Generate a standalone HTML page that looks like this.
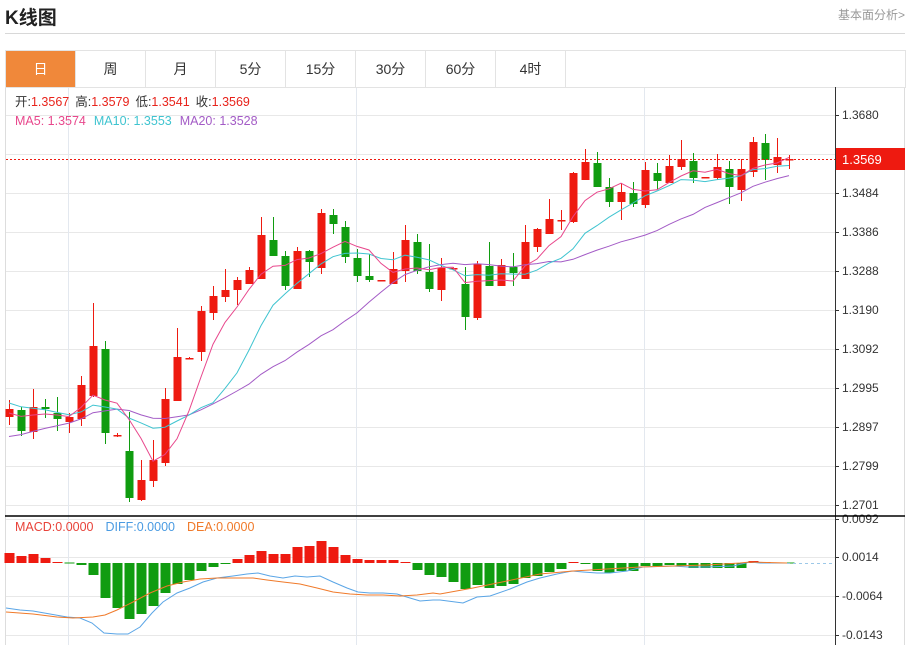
<!DOCTYPE html>
<html><head><meta charset="utf-8">
<style>
html,body{margin:0;padding:0;background:#fff;}
body{width:909px;height:645px;overflow:hidden;position:relative;font-family:"Liberation Sans","Noto Sans CJK SC",sans-serif;}
#hd{position:absolute;left:5px;top:3px;font-size:19px;font-weight:bold;color:#222;}
#rt{position:absolute;right:4px;top:6px;font-size:12px;color:#999;}
#ln{position:absolute;left:5px;top:33px;width:900px;height:1px;background:#d8d8d8;}
#tabs{position:absolute;left:5px;top:50px;width:899px;height:36px;border:1px solid #e3e3e3;}
.t{position:absolute;top:0;width:70px;height:36px;line-height:36px;text-align:center;font-size:14px;color:#333;border-right:1px solid #e3e3e3;box-sizing:border-box;}
svg{position:absolute;left:0;top:0;}
</style></head><body>
<div id="hd">K线图</div><div id="rt">基本面分析&gt;</div><div id="ln"></div>
<div id="tabs">
<div class="t" style="left:0;background:#f0883a;color:#fff;">日</div>
<div class="t" style="left:70px">周</div><div class="t" style="left:140px">月</div>
<div class="t" style="left:210px">5分</div><div class="t" style="left:280px">15分</div>
<div class="t" style="left:350px">30分</div><div class="t" style="left:420px">60分</div>
<div class="t" style="left:490px">4时</div>
</div>
<svg id="s" width="909" height="645" xmlns="http://www.w3.org/2000/svg" font-family="Liberation Sans, Noto Sans CJK SC, sans-serif"></svg>
<script>
var S=document.getElementById('s'),h='';
function L(x1,y1,x2,y2,c,w,d){h+='<line x1="'+x1+'" y1="'+y1+'" x2="'+x2+'" y2="'+y2+'" stroke="'+c+'" stroke-width="'+(w||1)+'"'+(d?' stroke-dasharray="'+d+'"':'')+'/>';}
function R(x,y,w,hh,c){h+='<rect x="'+x+'" y="'+y+'" width="'+w+'" height="'+hh+'" fill="'+c+'"/>';}
function T(x,y,s,c,sz,a){h+='<text x="'+x+'" y="'+y+'" fill="'+c+'" font-size="'+(sz||12)+'"'+(a?' text-anchor="'+a+'"':'')+'>'+s+'</text>';}
function P(pts,c){h+='<polyline fill="none" stroke="'+c+'" stroke-width="1" points="'+pts.map(function(p){return p.join(',')}).join(' ')+'"/>';}
// frame
L(5.5,87,5.5,645,'#ddd');L(904.5,87,904.5,645,'#ddd');L(5,87.5,905,87.5,'#e3e3e3');
// grids
var py=[115,154,193,232,271,310,349,388,427,466,505],pl=['1.3680','','1.3484','1.3386','1.3288','1.3190','1.3092','1.2995','1.2897','1.2799','1.2701'];
py.forEach(function(y,i){L(6,y+.5,835,y+.5,'#e8e8e8');L(835,y+.5,839,y+.5,'#333');if(pl[i])T(842,y+4,pl[i],'#333',12);});
var my=[519,557,596,635],ml=['0.0092','0.0014','-0.0064','-0.0143'];
my.forEach(function(y,i){L(6,y+.5,835,y+.5,'#e8e8e8');L(835,y+.5,839,y+.5,'#333');T(842,y+4,ml[i],'#333',12);});
[68,356,644].forEach(function(x){L(x+.5,88,x+.5,645,'#e3e8ef');});
// candles [o,c,h,l]
var C=[[417,409,400,425],[410,431,407,436],[432,407,389,439],[407,409,399,418],[413,419,397,431],[422,417,413,433],[419,385,376,426],[396,346,303,397],[349,433,341,444],[435,435,433,437],[451,498,412,502],[500,480,460,501],[481,460,440,487],[463,399,388,466],[401,357,328,401],[358,358,357,359],[352,311,306,361],[313,296,286,320],[297,290,269,302],[290,280,277,305],[284,270,267,284],[279,235,217,279],[240,256,217,256],[256,286,251,290],[289,251,247,289],[251,262,250,277],[268,213,209,274],[215,224,209,234],[227,257,221,263],[258,276,249,282],[276,280,254,282],[280,280,280,280],[284,269,252,284],[271,240,225,282],[242,271,234,274],[272,289,244,292],[290,268,258,301],[268,268,267,269],[284,317,267,330],[318,264,261,320],[266,286,242,286],[286,265,259,286],[267,273,253,286],[279,242,225,279],[247,229,228,252],[234,219,199,234],[220,220,210,230],[222,173,172,223],[180,162,149,180],[163,187,152,187],[187,202,178,207],[202,192,183,220],[193,204,182,207],[205,170,162,208],[173,181,163,189],[183,166,155,183],[167,159,140,170],[161,178,153,183],[177,177,177,177],[178,167,154,180],[169,187,161,204],[190,169,159,201],[172,142,137,177],[143,160,134,180],[165,157,138,173],[159,159,155,169]];
var RED='#ee1a10',GRN='#109c10';
C.forEach(function(d,i){var x=9+12*i,o=d[0],c=d[1],up=c<o||(c==o&&true),col=(c>o)?GRN:RED;
 L(x+.5,d[2],x+.5,d[3],col,1);
 var t=Math.min(o,c),b=Math.max(o,c);R(x-3.5,t,8,Math.max(1.5,b-t),col);});
// MAs
var pre=[];for(var k=0;k<10;k++)pre.push(470);for(k=0;k<5;k++)pre.push(393);for(k=0;k<4;k++)pre.push(414);
var cl=pre.concat(C.map(function(d){return d[1]}));
function MA(n,col){var pts=[];for(var i=0;i<C.length;i++){var j=i+19,s=0;for(var m=0;m<n;m++)s+=cl[j-m];pts.push([9+12*i,(s/n).toFixed(1)]);}P(pts,col);}
MA(20,'#a35bc6');MA(10,'#3fc4d0');MA(5,'#e8478c');
// price line
L(6,159.5,835,159.5,'#ee1a10',1,'2,2');
R(836,148,69,22,'#ee1a10');T(842,164,'1.3569','#fff',13);
// axis
L(835.5,87,835.5,645,'#333');
L(5,516,905,516,'#000',1.5);
// labels
h+='<text x="15" y="106" font-size="12.5"><tspan fill="#333">开:</tspan><tspan fill="#e8231b">1.3567</tspan><tspan fill="#333" dx="6">高:</tspan><tspan fill="#e8231b">1.3579</tspan><tspan fill="#333" dx="6">低:</tspan><tspan fill="#e8231b">1.3541</tspan><tspan fill="#333" dx="6">收:</tspan><tspan fill="#e8231b">1.3569</tspan></text>';
h+='<text x="15" y="125" font-size="12.5"><tspan fill="#e8478c">MA5: 1.3574</tspan><tspan fill="#3fc4d0" dx="8">MA10: 1.3553</tspan><tspan fill="#a35bc6" dx="8">MA20: 1.3528</tspan></text>';
h+='<text x="15" y="531" font-size="12.5"><tspan fill="#e8433a">MACD:0.0000</tspan><tspan fill="#4a9be2" dx="12">DIFF:0.0000</tspan><tspan fill="#f07a2a" dx="12">DEA:0.0000</tspan></text>';
// MACD bars
var Z=563,B=[553,556,554,558,562,563,565,575,598,608,619,614,606,593,584,580,571,567,564,559,555,551,554,554,547,546,541,547,555,559,560,560,560,562,570,575,577,582,589,585,588,586,584,578,576,572,569,562,564,571,573,571,571,566,566,565,566,568,568,568,568,568,561,562,563,563];
B.forEach(function(y,i){var x=9+12*i;var col=y<Z?RED:GRN;var t=Math.min(y,Z),hh=Math.abs(y-Z);if(hh<1){R(x-4.5,Z-0.5,10,1,col);}else R(x-4.5,t,10,hh,col);});
P([[6,608],[20,610],[33,611],[50,614],[67,617],[80,618],[92,623],[104,633],[117,634],[128,634],[140,627],[152,613],[163,602],[177,593],[190,588],[203,582],[217,578],[233,576],[247,574],[258,573],[270,576],[283,578],[295,576],[307,577],[320,576],[333,582],[347,588],[358,592],[370,593],[383,593],[397,594],[410,598],[420,601],[433,600],[440,600],[463,603],[477,597],[490,596],[510,589],[527,582],[540,578],[557,574],[572,571],[583,572],[597,573],[610,573],[627,571],[643,567],[673,566],[688,567],[707,567],[733,566],[750,562],[760,563],[787,563]],'#5aa5e6');
P([[6,612],[33,614],[57,617],[73,618],[93,617],[105,615],[117,610],[133,602],[150,593],[167,586],[183,582],[200,579],[217,578],[233,578],[253,578],[267,580],[283,582],[300,584],[317,588],[333,592],[350,594],[367,595],[383,595],[400,596],[417,595],[433,593],[440,594],[473,588],[507,581],[540,574],[573,571],[607,569],[640,567],[673,566],[707,565],[740,563],[750,562],[787,563]],'#f07a2a');
L(787,563.5,835,563.5,'#9cc8e8',1,'3,3');
S.innerHTML=h;
</script>
</body></html>
